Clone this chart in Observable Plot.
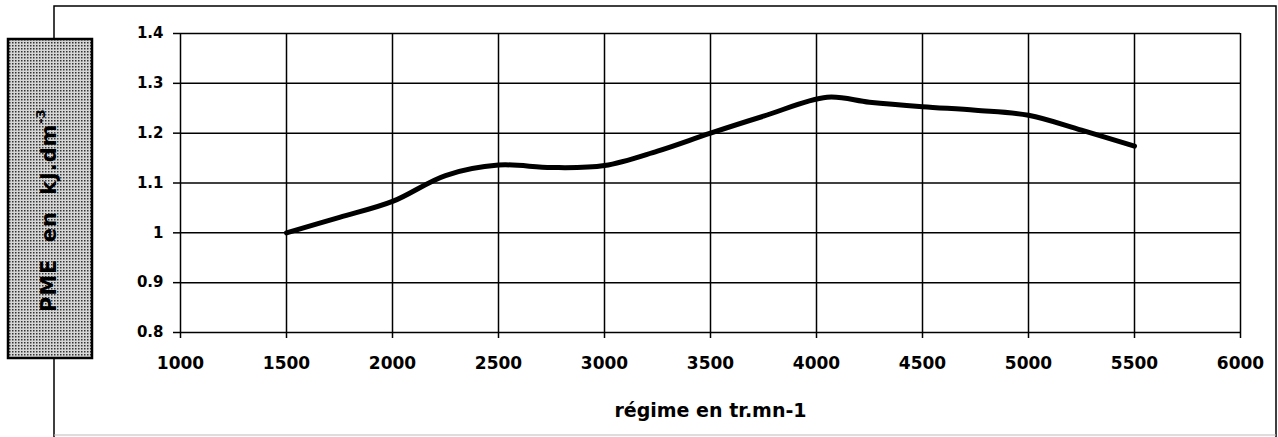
<!DOCTYPE html>
<html>
<head>
<meta charset="utf-8">
<script src="https://cdn.jsdelivr.net/npm/d3@7"></script>
<script src="https://cdn.jsdelivr.net/npm/@observablehq/plot@0.6"></script>
<style>
  html, body { margin: 0; padding: 0; background: #fff; }
  #chart { width: 1278px; height: 437px; position: relative; }
</style>
</head>
<body>
<div id="chart"></div>
<script>
// Data
const regime = [1500, 1750, 2000, 2250, 2500, 2750, 3000, 3250, 3500, 3750, 4050, 4250, 4500, 4750, 5000, 5250, 5500];
const pme    = [1.000, 1.031, 1.063, 1.115, 1.136, 1.131, 1.135, 1.164, 1.200, 1.234, 1.272, 1.262, 1.253, 1.246, 1.236, 1.206, 1.174];
const xTicks = [1000, 1500, 2000, 2500, 3000, 3500, 4000, 4500, 5000, 5500, 6000];
const yTicks = [0.8, 0.9, 1, 1.1, 1.2, 1.3, 1.4];
const xTitle = "régime en tr.mn-1";
const yTitle = "PME  en  kJ.dm";
const yTitleSup = "-3";

const data = regime.map((r, i) => ({regime: r, pme: pme[i]}));

const plot = Plot.plot({
  width: 1278,
  height: 437,
  marginLeft: 180,
  marginRight: 38,
  marginTop: 33,
  marginBottom: 105,
  style: {fontFamily: "DejaVu Sans", fontWeight: "bold", color: "#000", background: "transparent"},
  x: {domain: [1000, 6000]},
  y: {domain: [0.8, 1.4]},
  marks: [
    Plot.gridX(xTicks, {stroke: "#000", strokeOpacity: 1, strokeWidth: 1.5}),
    Plot.gridY(yTicks, {stroke: "#000", strokeOpacity: 1, strokeWidth: 1.5}),
    Plot.axisX(xTicks, {tickSize: 6, tickPadding: 18, fontSize: 17, tickFormat: d => String(d),
      label: null, strokeWidth: 1.5}),
    Plot.axisY(yTicks, {tickSize: 7, tickPadding: 10, fontSize: 15, tickFormat: d => String(d),
      label: null, strokeWidth: 1.5}),
    Plot.text([xTitle], {text: d => d, frameAnchor: "bottom", dy: 78, lineAnchor: "middle",
      fontSize: 19, fontWeight: "bold", fill: "#000"}),
    Plot.line(data, {x: "regime", y: "pme", stroke: "#000", strokeWidth: 5, curve: "catmull-rom", strokeLinecap: "round"})
  ]
});

document.getElementById("chart").appendChild(plot);

// Decorative outer frame and the shaded y-axis title box
const svg = d3.select(plot);
const defs = svg.insert("defs", ":first-child");
const pat = defs.append("pattern").attr("id", "stipple").attr("patternUnits", "userSpaceOnUse")
  .attr("width", 3).attr("height", 3);
pat.append("rect").attr("width", 3).attr("height", 3).attr("fill", "#d6d6d6");
pat.append("rect").attr("x", 0).attr("y", 0).attr("width", 1.5).attr("height", 1.5).attr("fill", "#333");

const deco = svg.insert("g", ":first-child");
deco.append("path").attr("d", "M54,437 V6 H1276 V437").attr("fill", "none").attr("stroke", "#000").attr("stroke-width", 1.5);
deco.append("line").attr("x1", 54).attr("x2", 1276).attr("y1", 435).attr("y2", 435).attr("stroke", "#bbb").attr("stroke-width", 1);

const box = svg.append("g");
box.append("rect").attr("x", 8).attr("y", 39).attr("width", 84).attr("height", 319)
  .attr("fill", "url(#stipple)").attr("stroke", "#000").attr("stroke-width", 2.5);
const t = box.append("text").attr("transform", "translate(56,312) rotate(-90)")
  .attr("text-anchor", "start")
  .attr("font-family", "DejaVu Sans").attr("font-weight", "bold").attr("font-size", 21)
  .attr("letter-spacing", 0.9).attr("fill", "#000").attr("style", "white-space: pre");
t.append("tspan").text(yTitle);
t.append("tspan").text(yTitleSup).attr("font-size", 13).attr("dy", -11).attr("letter-spacing", 0);
</script>
</body>
</html>
